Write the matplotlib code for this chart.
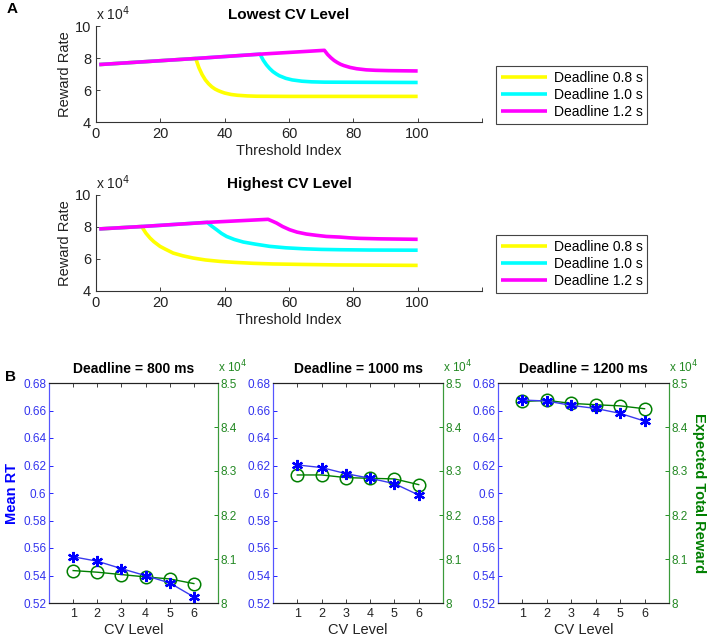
import matplotlib
matplotlib.use("Agg")
import matplotlib.pyplot as plt

plt.rcParams['font.family'] = ['Liberation Sans', 'DejaVu Sans']
plt.rcParams['xtick.direction'] = 'in'
plt.rcParams['ytick.direction'] = 'in'

# ---------------- Panel A data (reward rate, units of 1e4) ----------------
deadline_labels = ['Deadline 0.8 s', 'Deadline 1.0 s', 'Deadline 1.2 s']
line_colors = ['#ffff00', '#00ffff', '#ff00ff']

# Lowest CV level
low_y08_x = [1, 31, 32, 33, 34, 35, 36, 37, 38, 39, 40, 42, 44, 47, 50, 60, 100]
low_y08_y = [7.59, 7.97, 7.39, 6.96, 6.63, 6.39, 6.2, 6.06, 5.96, 5.88, 5.81,
             5.72, 5.67, 5.63, 5.61, 5.6, 5.6]
low_y10_x = [1, 31, 51, 52, 53, 54, 55, 56, 57, 59, 61, 64, 67, 71, 100]
low_y10_y = [7.59, 7.97, 8.24, 7.86, 7.57, 7.34, 7.15, 7.01, 6.89, 6.73, 6.63,
             6.55, 6.51, 6.49, 6.47]
low_y12_x = [1, 31, 51, 71, 72, 73, 74, 75, 76, 77, 79, 81, 84, 87, 91, 100]
low_y12_y = [7.59, 7.97, 8.24, 8.48, 8.22, 8.02, 7.85, 7.72, 7.61, 7.53, 7.41,
             7.33, 7.26, 7.23, 7.21, 7.19]

# Highest CV level
high_y08_x = [1, 14.2, 15.5, 16.8, 18, 19.9, 21.5, 24, 27, 30.2, 34, 38.5, 43,
              48.9, 55, 64.4, 75, 100]
high_y08_y = [7.88, 8.03, 7.62, 7.31, 7.08, 6.79, 6.62, 6.37, 6.2, 6.06, 5.94,
              5.85, 5.79, 5.73, 5.69, 5.66, 5.63, 5.6]
high_y10_x = [1, 14.2, 34.6, 36, 37.5, 39, 40.6, 43, 45.8, 49.5, 54, 59, 64.4,
              70, 75.8, 85, 100]
high_y10_y = [7.88, 8.03, 8.29, 8.05, 7.83, 7.6, 7.41, 7.22, 7.06, 6.93, 6.79,
              6.7, 6.64, 6.6, 6.58, 6.56, 6.55]
high_y12_x = [1, 14.2, 34.6, 53.5, 55, 56.1, 58, 60.2, 62.5, 65.4, 68.5, 71.6,
              75.8, 79, 82, 88, 100]
high_y12_y = [7.88, 8.03, 8.29, 8.48, 8.35, 8.25, 8.03, 7.83, 7.68, 7.56, 7.48,
              7.41, 7.37, 7.32, 7.29, 7.26, 7.23]

# ---------------- Panel B data ----------------
cv_levels = [1, 2, 3, 4, 5, 6]
deadline_titles = ['Deadline = 800 ms', 'Deadline = 1000 ms', 'Deadline = 1200 ms']
mean_rt_800 = [0.5536, 0.5504, 0.5450, 0.5399, 0.5346, 0.5244]
mean_rt_1000 = [0.6204, 0.6185, 0.6141, 0.6107, 0.6068, 0.5985]
mean_rt_1200 = [0.6676, 0.6669, 0.6637, 0.6615, 0.6579, 0.6523]
reward_800 = [8.0737, 8.0700, 8.0646, 8.0593, 8.0547, 8.0441]   # x 1e4
reward_1000 = [8.291, 8.291, 8.285, 8.2834, 8.282, 8.269]
reward_1200 = [8.458, 8.4605, 8.4537, 8.4506, 8.448, 8.4415]

fig = plt.figure(figsize=(7.08, 6.36), dpi=100)
W, H = 708, 636

def frac(l, t, r, b):
    return [l / W, 1 - b / H, (r - l) / W, (b - t) / H]

blue = '#0000ff'
blue_line = '#3a3aee'
green = '#007f00'
blue_txt = '#3333ee'
green_txt = '#228822'

# ---------------- Panel A ----------------
panelA = [
    ('Lowest CV Level', 26, 122,
     [(low_y08_x, low_y08_y), (low_y10_x, low_y10_y), (low_y12_x, low_y12_y)]),
    ('Highest CV Level', 195, 291,
     [(high_y08_x, high_y08_y), (high_y10_x, high_y10_y), (high_y12_x, high_y12_y)]),
]
for title, top, bot, series in panelA:
    ax = fig.add_axes(frac(96, top, 482, bot))
    handles = []
    for (xs, ys), c, lab in zip(series, line_colors, deadline_labels):
        h, = ax.plot(xs, ys, color=c, lw=2.6, label=lab,
                     solid_capstyle='butt', solid_joinstyle='round')
        handles.append(h)
    ax.set_xlim(0, 120)
    ax.set_ylim(4, 10)
    ax.set_xticks([0, 20, 40, 60, 80, 100, 120])
    ax.set_xticklabels(['0', '20', '40', '60', '80', '100', ''])
    ax.set_yticks([4, 6, 8, 10])
    ax.spines['top'].set_visible(False)
    ax.spines['right'].set_visible(False)
    for s in ['left', 'bottom']:
        ax.spines[s].set_color('#333333')
        ax.spines[s].set_linewidth(0.8)
    ax.tick_params(labelsize=10.5, length=3, width=0.6, colors='#222222')
    ax.set_xlabel('Threshold Index', fontsize=10.5, labelpad=2, color='#222222')
    ax.set_ylabel('Reward Rate', fontsize=10.5, labelpad=2, color='#222222')
    ax.set_title(title, fontsize=11, fontweight='bold', pad=5)
    ax.text(0.0, 1.03, r'x 10$^4$', transform=ax.transAxes, fontsize=10,
            ha='left', va='bottom', color='#222222')
    leg = ax.legend(handles=handles, loc='center left',
                    bbox_to_anchor=(496 / W, 1 - ((bot - 27) / H)),
                    bbox_transform=fig.transFigure, fontsize=10,
                    handlelength=3.3, handletextpad=0.5, borderpad=0.35,
                    labelspacing=0.2, fancybox=False, framealpha=1,
                    edgecolor='#444444', borderaxespad=0)
    leg.get_frame().set_linewidth(0.8)

fig.text(7 / W, 1 - 9 / H, 'A', fontsize=11, fontweight='bold', va='center')
fig.text(5 / W, 1 - 377 / H, 'B', fontsize=11, fontweight='bold', va='center')

# ---------------- Panel B ----------------
rts = [mean_rt_800, mean_rt_1000, mean_rt_1200]
rews = [reward_800, reward_1000, reward_1200]
lefts = [(49, 218), (273, 443), (498, 669)]
for i, ((l, r), rt, rw, ttl) in enumerate(zip(lefts, rts, rews, deadline_titles)):
    ax = fig.add_axes(frac(l, 383, r, 603))
    ax2 = ax.twinx()
    ax.plot(cv_levels, rt, color=blue_line, lw=1.0, zorder=2)
    ax.plot(cv_levels, rt, color=blue, marker=(6, 2, 0), ms=8, lw=0,
            markeredgewidth=1.6, zorder=3)
    ax2.plot(cv_levels, rw, color=green, marker='o', ms=9, lw=1.0,
             markerfacecolor='none', markeredgewidth=1.1)
    ax.set_zorder(ax2.get_zorder() + 1)
    ax.patch.set_visible(False)
    ax.set_xlim(0, 7)
    ax.set_xticks(cv_levels)
    ax.set_ylim(0.52, 0.68)
    ax.set_yticks([0.52, 0.54, 0.56, 0.58, 0.6, 0.62, 0.64, 0.66, 0.68])
    ax.set_yticklabels(['0.52', '0.54', '0.56', '0.58', '0.6', '0.62', '0.64', '0.66', '0.68'])
    ax2.set_ylim(8.0, 8.5)
    ax2.set_yticks([8.0, 8.1, 8.2, 8.3, 8.4, 8.5])
    ax2.set_yticklabels(['8', '8.1', '8.2', '8.3', '8.4', '8.5'])
    ax.tick_params(axis='x', labelsize=9, length=3, width=0.6, top=True,
                   colors='#222222')
    ax.tick_params(axis='y', labelsize=8.5, length=3, width=0.6, colors=blue,
                   labelcolor=blue_txt, pad=2)
    ax2.tick_params(axis='y', labelsize=8.5, length=3, width=0.6, colors=green,
                    labelcolor=green_txt, pad=2)
    for a in (ax, ax2):
        a.spines['top'].set_color('#222222')
        a.spines['bottom'].set_color('#222222')
        a.spines['left'].set_color('#5555ff')
        a.spines['right'].set_color('#3a9a3a')
        for s in a.spines.values():
            s.set_linewidth(0.8)
    ax.set_xlabel('CV Level', fontsize=10.5, labelpad=2, color='#222222')
    ax.set_title(ttl, fontsize=10, fontweight='bold', pad=7)
    ax2.text(1.0, 1.035, r'x 10$^4$', transform=ax2.transAxes, fontsize=8.5,
             ha='left', va='bottom', color=green_txt)
    if i == 0:
        ax.set_ylabel('Mean RT', fontsize=10.5, fontweight='bold', color=blue,
                      labelpad=3)
    if i == 2:
        ax2.set_ylabel('Expected Total Reward', fontsize=10.5, fontweight='bold',
                       color=green, rotation=270, labelpad=13)

fig.savefig('out.png', dpi=100)
